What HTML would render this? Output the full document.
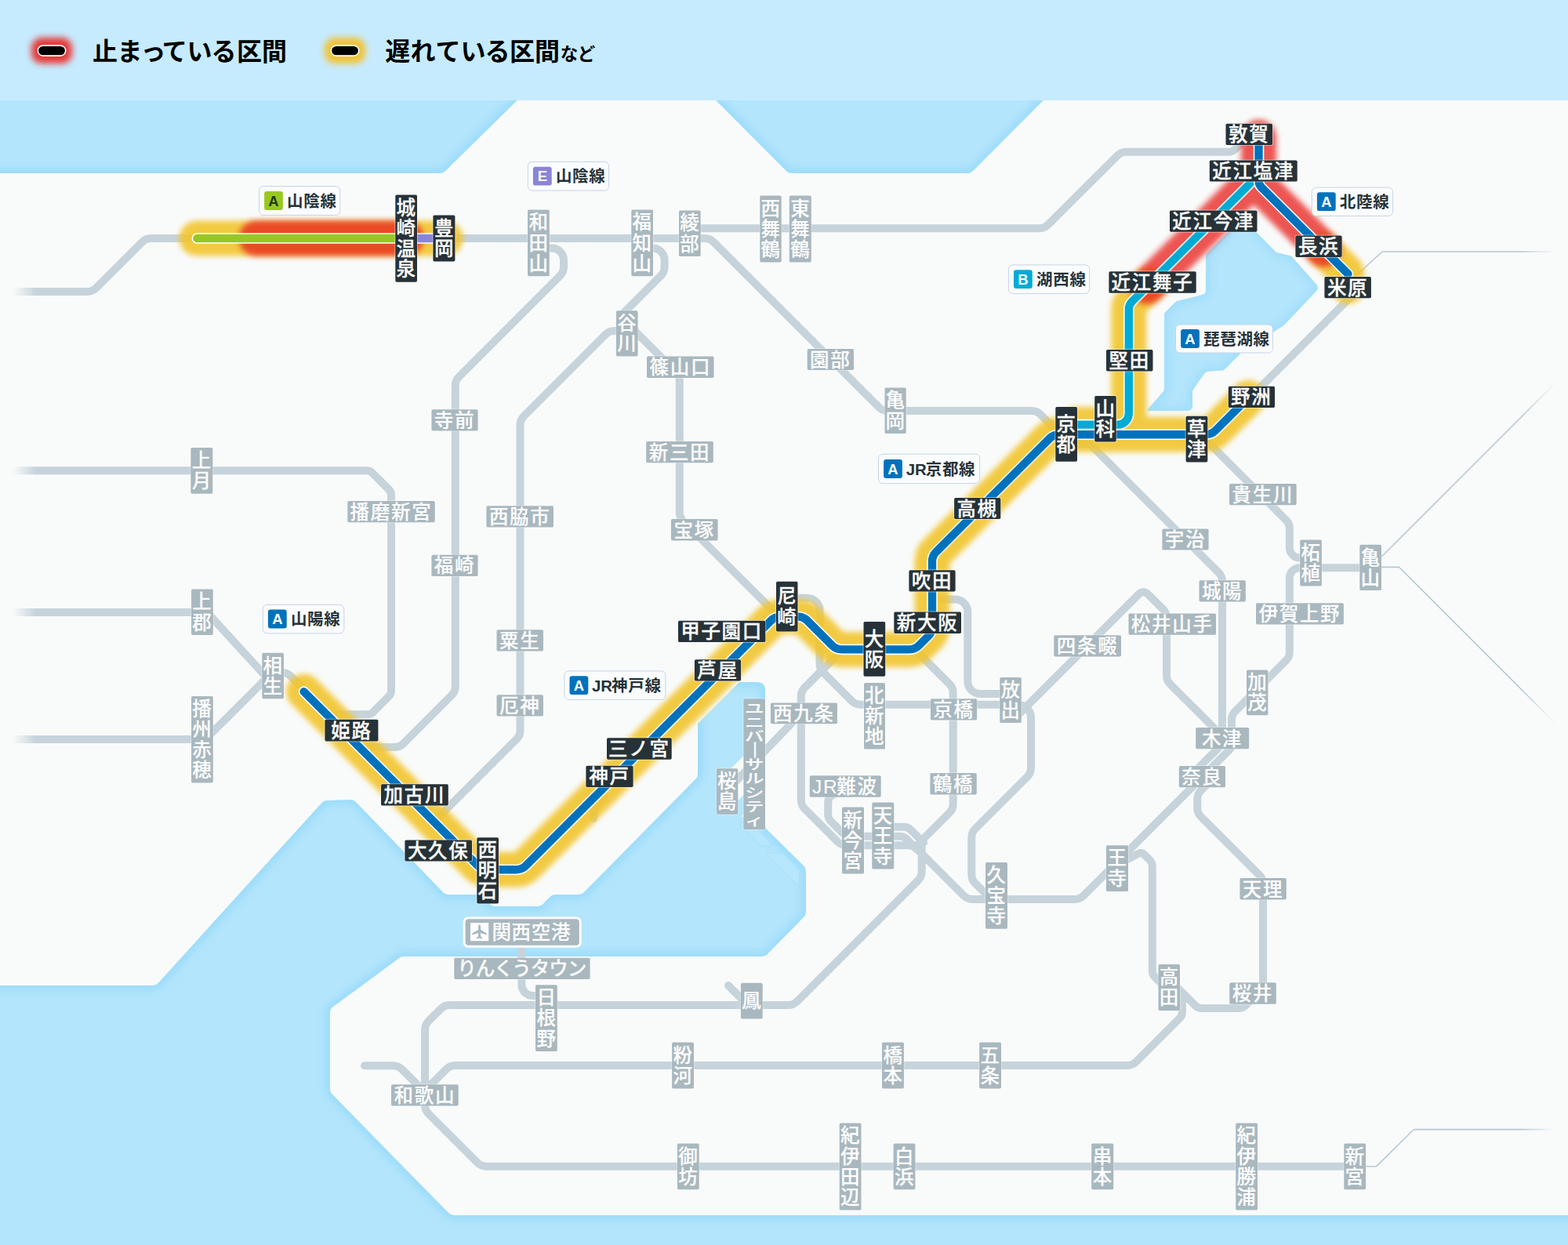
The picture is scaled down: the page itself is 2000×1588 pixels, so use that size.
<!DOCTYPE html>
<html lang="ja"><head><meta charset="utf-8"><title>JR West train status map</title>
<style>html,body{margin:0;padding:0;background:#B3E5FC;font-family:"Liberation Sans",sans-serif}svg{display:block}</style></head>
<body>
<svg width="2000" height="1588" viewBox="0 0 2000 1588" role="img" aria-label="JR西日本 近畿エリア 運行情報マップ">
<title>JR西日本 近畿エリア 運行情報マップ</title>
<defs><filter id="bl5" filterUnits="userSpaceOnUse" x="-40" y="-40" width="2080" height="1668"><feGaussianBlur stdDeviation="5"/></filter><filter id="bl4" filterUnits="userSpaceOnUse" x="-40" y="-40" width="2080" height="1668"><feGaussianBlur stdDeviation="3.7"/></filter><filter id="bl3" x="-50%" y="-50%" width="200%" height="200%"><feGaussianBlur stdDeviation="4"/></filter><clipPath id="lakeclip"><path d="M1580.1 281.9A6 6 0 0 1 1588.6 281.9L1627.4 321.4A3 3 0 0 0 1628.8 322.2L1646.1 326.3A3 3 0 0 1 1647.6 327.2L1679.3 362.9A6 6 0 0 1 1679.2 371L1638.5 414A6 6 0 0 1 1637.4 414.9L1583.5 449.7A6 6 0 0 0 1582.5 450.5L1562.1 470.9A6 6 0 0 1 1558.3 472.6L1540.8 473.8A6 6 0 0 0 1536.4 476.3L1522.1 496.4A6 6 0 0 0 1521 499.9L1521 518A6 6 0 0 1 1515 524L1464.8 524A1.2 1.2 0 0 1 1464 522L1465.8 520.2A6 6 0 0 0 1466.1 519.8L1483.5 499.7A6 6 0 0 0 1485 495.8L1485 402A6 6 0 0 1 1486.8 397.7L1498.8 385.7A6 6 0 0 1 1501.6 384.1L1533.5 376.1A6 6 0 0 0 1538 370.3L1538 326.5A6 6 0 0 1 1539.8 322.2Z"/></clipPath><linearGradient id="fl" x1="0" x2="1" y1="0" y2="0"><stop offset=".35" stop-color="#F9FBFB"/><stop offset="1" stop-color="#F9FBFB" stop-opacity="0"/></linearGradient><linearGradient id="fr" x1="0" x2="1" y1="0" y2="0"><stop offset="0" stop-color="#F9FBFB" stop-opacity="0"/><stop offset=".75" stop-color="#F9FBFB"/></linearGradient></defs>
<rect width="2000" height="1588" fill="#B3E5FC"/>
<path d="M-20 230A9 9 0 0 1 -11 221L561.3 221A9 9 0 0 0 567.6 218.4L667.4 120.6A9 9 0 0 1 673.7 118L899.3 118A9 9 0 0 1 905.6 120.6L1003.4 218.4A9 9 0 0 0 1009.7 221L1234.3 221A9 9 0 0 0 1240.6 218.4L1338.4 120.6A9 9 0 0 1 1344.7 118L2011 118A9 9 0 0 1 2020 127L2020 1541A9 9 0 0 1 2011 1550L578.8 1550A9 9 0 0 1 572.4 1547.3L423.6 1395.6A9 9 0 0 1 421 1389.3L421 1291.5A9 9 0 0 1 424.7 1284.3L509.6 1221.8A9 9 0 0 1 515 1220L972.2 1220A9 9 0 0 0 978.6 1217.3L1025.4 1169.6A9 9 0 0 0 1028 1163.3L1028 1110.8A9 9 0 0 0 1025.3 1104.4L978.7 1058.6A9 9 0 0 1 976 1052.2L976 879A9 9 0 0 0 967 870L899 870A9 9 0 0 0 890 879L890 987.3A9 9 0 0 1 887.4 993.6L744.6 1138.3A9 9 0 0 1 738.2 1141L707.9 1141A9 9 0 0 0 701.3 1143.9L692.7 1153.1A9 9 0 0 1 686.1 1156L631.7 1156A9 9 0 0 1 625.4 1153.4L615.6 1143.6A9 9 0 0 0 609.3 1141L571.8 1141A9 9 0 0 1 565.3 1138.3L453.8 1022.8A9 9 0 0 0 447 1020.1L416.8 1020.9A9 9 0 0 0 410.4 1023.9L201.7 1254A9 9 0 0 1 195 1257L-11 1257A9 9 0 0 1 -20 1248Z" fill="none" stroke="#9CDCFA" stroke-width="13" filter="url(#bl5)"/>
<path d="M-20 230A9 9 0 0 1 -11 221L561.3 221A9 9 0 0 0 567.6 218.4L667.4 120.6A9 9 0 0 1 673.7 118L899.3 118A9 9 0 0 1 905.6 120.6L1003.4 218.4A9 9 0 0 0 1009.7 221L1234.3 221A9 9 0 0 0 1240.6 218.4L1338.4 120.6A9 9 0 0 1 1344.7 118L2011 118A9 9 0 0 1 2020 127L2020 1541A9 9 0 0 1 2011 1550L578.8 1550A9 9 0 0 1 572.4 1547.3L423.6 1395.6A9 9 0 0 1 421 1389.3L421 1291.5A9 9 0 0 1 424.7 1284.3L509.6 1221.8A9 9 0 0 1 515 1220L972.2 1220A9 9 0 0 0 978.6 1217.3L1025.4 1169.6A9 9 0 0 0 1028 1163.3L1028 1110.8A9 9 0 0 0 1025.3 1104.4L978.7 1058.6A9 9 0 0 1 976 1052.2L976 879A9 9 0 0 0 967 870L899 870A9 9 0 0 0 890 879L890 987.3A9 9 0 0 1 887.4 993.6L744.6 1138.3A9 9 0 0 1 738.2 1141L707.9 1141A9 9 0 0 0 701.3 1143.9L692.7 1153.1A9 9 0 0 1 686.1 1156L631.7 1156A9 9 0 0 1 625.4 1153.4L615.6 1143.6A9 9 0 0 0 609.3 1141L571.8 1141A9 9 0 0 1 565.3 1138.3L453.8 1022.8A9 9 0 0 0 447 1020.1L416.8 1020.9A9 9 0 0 0 410.4 1023.9L201.7 1254A9 9 0 0 1 195 1257L-11 1257A9 9 0 0 1 -20 1248Z" fill="#F9FBFB"/>
<path d="M949.5 963L931 981.5V1010H941.5V1021L949.5 1013ZM949.5 1036.5L945.2 1041.8H949.5Z" fill="#F9FBFB"/>
<path d="M846 929L972 803" stroke="#F9FBFB" stroke-width="54" fill="none"/>
<g fill="#B7E7FC" stroke="#A6DFFB" stroke-width="1" stroke-linejoin="round"><path d="M946.9 1049A2.5 2.5 0 0 0 945.1 1053.2L969.3 1078.2A2.5 2.5 0 0 0 971.1 1079L980.5 1079A2.5 2.5 0 0 0 982.3 1074.7L957.7 1049.7A2.5 2.5 0 0 0 956 1049Z"/><path d="M978.5 1089.2A1.2 1.2 0 0 1 979.8 1088L996.7 1088A3 3 0 0 1 998.9 1088.9L1018.6 1109.1A3 3 0 0 1 1019.5 1111.2L1019.5 1126.2A1.7 1.7 0 0 1 1017.8 1128L1017.2 1128A3 3 0 0 1 1015.1 1127.1L979.4 1091.4A3 3 0 0 1 978.5 1089.3Z"/></g>
<path d="M1580.1 281.9A6 6 0 0 1 1588.6 281.9L1627.4 321.4A3 3 0 0 0 1628.8 322.2L1646.1 326.3A3 3 0 0 1 1647.6 327.2L1679.3 362.9A6 6 0 0 1 1679.2 371L1638.5 414A6 6 0 0 1 1637.4 414.9L1583.5 449.7A6 6 0 0 0 1582.5 450.5L1562.1 470.9A6 6 0 0 1 1558.3 472.6L1540.8 473.8A6 6 0 0 0 1536.4 476.3L1522.1 496.4A6 6 0 0 0 1521 499.9L1521 518A6 6 0 0 1 1515 524L1464.8 524A1.2 1.2 0 0 1 1464 522L1465.8 520.2A6 6 0 0 0 1466.1 519.8L1483.5 499.7A6 6 0 0 0 1485 495.8L1485 402A6 6 0 0 1 1486.8 397.7L1498.8 385.7A6 6 0 0 1 1501.6 384.1L1533.5 376.1A6 6 0 0 0 1538 370.3L1538 326.5A6 6 0 0 1 1539.8 322.2Z" fill="#B3E5FC"/>
<g clip-path="url(#lakeclip)" opacity=".8"><path d="M1580.1 281.9A6 6 0 0 1 1588.6 281.9L1627.4 321.4A3 3 0 0 0 1628.8 322.2L1646.1 326.3A3 3 0 0 1 1647.6 327.2L1679.3 362.9A6 6 0 0 1 1679.2 371L1638.5 414A6 6 0 0 1 1637.4 414.9L1583.5 449.7A6 6 0 0 0 1582.5 450.5L1562.1 470.9A6 6 0 0 1 1558.3 472.6L1540.8 473.8A6 6 0 0 0 1536.4 476.3L1522.1 496.4A6 6 0 0 0 1521 499.9L1521 518A6 6 0 0 1 1515 524L1464.8 524A1.2 1.2 0 0 1 1464 522L1465.8 520.2A6 6 0 0 0 1466.1 519.8L1483.5 499.7A6 6 0 0 0 1485 495.8L1485 402A6 6 0 0 1 1486.8 397.7L1498.8 385.7A6 6 0 0 1 1501.6 384.1L1533.5 376.1A6 6 0 0 0 1538 370.3L1538 326.5A6 6 0 0 1 1539.8 322.2Z" fill="none" stroke="#9CDCFA" stroke-width="11" filter="url(#bl5)"/></g>
<g fill="none" stroke="#C6D3DA" stroke-width="10" stroke-linecap="round" stroke-linejoin="round"><path d="M10 372L111.4 372A16 16 0 0 0 122.7 367.3L181.3 308.7A16 16 0 0 1 192.6 304L255 304"/><path d="M560 304L898.9 304A16 16 0 0 1 910.2 308.7L1120.8 519.3A16 16 0 0 0 1132.1 524L1315.9 524A16 16 0 0 1 1327.2 528.7L1350 551.5"/><path d="M880 291.3L1325.4 291.3A16 16 0 0 0 1336.7 286.6L1425.3 198.5A16 16 0 0 1 1436.6 193.8L1567 193.8A12 12 0 0 0 1575.5 190.3L1588 177.8"/><path d="M686 316.5L703.8 316.5A15.2 15.2 0 0 1 719 331.8L719 340.4A16 16 0 0 1 714.3 351.7L585.5 480.5A16 16 0 0 0 580.8 491.8L580.8 875.4A16 16 0 0 1 576.1 886.7L514.7 948.3A16 16 0 0 1 503.4 953L455 953"/><path d="M10 600.3L467.9 600.3A10 10 0 0 1 474.9 603.2L496.1 624.4A10 10 0 0 1 499 631.4L499 880.9A10 10 0 0 1 496.1 887.9L475.9 908.3A10 10 0 0 1 468.8 911.3L412 911.3"/><path d="M800 422L783.6 422A16 16 0 0 0 772.3 426.7L668.2 530.8A16 16 0 0 0 663.5 542.1L663.5 931.4A16 16 0 0 1 658.8 942.7L553.4 1048"/><path d="M820 316.5L832.4 316.5A15.2 15.2 0 0 1 847.6 331.8L847.6 340.4A16 16 0 0 1 842.9 351.7L795 399.6"/><path d="M800 412.4L862.1 474.5A16 16 0 0 1 866.8 485.8L866.8 653.4A16 16 0 0 0 871.5 664.7L995 788"/><path d="M1360 566L1383.4 566A16 16 0 0 1 1394.7 570.7L1554.3 730.3A16 16 0 0 1 1559 741.6L1559 944.9A10 10 0 0 1 1556.1 951.9L1522 986"/><path d="M1528 551L1641 664A13 13 0 0 1 1644.8 673.2L1644.8 698.6A13 13 0 0 0 1657.8 711.6L1672 711.6"/><path d="M1297 913.4L1452.7 757.7A8 8 0 0 1 1464.1 757.7L1483.3 776.9A16 16 0 0 1 1488 788.2L1488 861.4A16 16 0 0 0 1492.7 872.7L1551 931"/><path d="M1003 762.8L1029.5 762.8A16 16 0 0 1 1045.5 778.8L1045.5 846.6A16 16 0 0 0 1050.2 857.9L1086.3 894A16 16 0 0 0 1097.6 898.7L1290 898.7"/><path d="M1200 764.5L1218.3 764.5A16 16 0 0 1 1234.3 780.5L1234.3 869A16 16 0 0 0 1250.3 885L1290 885"/><path d="M1289 899L1299 899A16 16 0 0 1 1315 915L1315 979.4A16 16 0 0 1 1310.3 990.7L1244 1057A16 16 0 0 0 1239.3 1068.3L1239.3 1115.4A16 16 0 0 0 1244 1126.7L1264 1146.7"/><path d="M1075 828.4L1026.5 876.9A16 16 0 0 0 1021.8 888.2L1021.8 1020.4A16 16 0 0 0 1026.5 1031.7L1068.3 1073.5A16 16 0 0 0 1079.6 1078.2L1158.4 1078.2A16 16 0 0 1 1169.7 1082.9L1229.1 1142.3A16 16 0 0 0 1240.4 1147L1370.9 1147A16 16 0 0 0 1382.2 1142.3L1568.1 956.4A10 10 0 0 0 1571 949.4L1571 917.2A13 13 0 0 1 1574.8 908L1641 841.8A13 13 0 0 0 1644.8 832.6L1644.8 737.2A13 13 0 0 1 1657.8 724.2L1748 724.2"/><path d="M1080 1005L1061.7 1014.2A10 10 0 0 0 1056.2 1023.2L1056.2 1039A12 12 0 0 0 1059.7 1047.5L1075.5 1063.3A12 12 0 0 0 1084 1066.8L1148 1066.8A12 12 0 0 1 1156.5 1070.3L1170 1083.8"/><path d="M1126 1054.8L1153 1054.8A12 12 0 0 1 1161.5 1058.3L1178 1074.8"/><path d="M1167 828.4L1211 872.4A16 16 0 0 1 1215.7 883.7L1215.7 1025.4A16 16 0 0 1 1211 1036.7L1172 1075.7"/><path d="M1175.7 1072L1175.7 1111.7A16 16 0 0 1 1171 1123L1016.7 1277.3A16 16 0 0 1 1005.4 1282L573.6 1282A16 16 0 0 0 562.3 1286.7L546.7 1302.3A16 16 0 0 0 542 1313.6L542 1395"/><path d="M929 1257L955 1283"/><path d="M695 1270L679.4 1270A14 14 0 0 1 665.4 1256L665.4 1195"/><path d="M545 1388L569.3 1363.7A16 16 0 0 1 580.6 1359L1437.9 1359A16 16 0 0 0 1449.2 1354.3L1504.5 1299A12 12 0 0 0 1508 1290.5L1508 1275"/><path d="M1544 996L1531.9 1008.1A16 16 0 0 0 1527.2 1019.4L1527.2 1030.4A16 16 0 0 0 1531.9 1041.7L1606.3 1116.1A16 16 0 0 1 1611 1127.4L1611 1266"/><path d="M1595 1276L1588.5 1282.5A12 12 0 0 1 1580 1286L1533 1286A12 12 0 0 1 1524.5 1282.5L1498 1256"/><path d="M1425 1103L1452.1 1088.6A6 6 0 0 1 1459.1 1089.6L1466.3 1096.8A12 12 0 0 1 1469.8 1105.3L1469.8 1238A12 12 0 0 0 1473.3 1246.5L1490 1263.2"/><path d="M542 1395L542 1409.4A16 16 0 0 0 546.7 1420.7L609 1483A16 16 0 0 0 620.3 1487.7L1728 1487.7"/><path d="M465 1359.2L501.4 1359.2A16 16 0 0 1 512.7 1363.9L537 1388.2"/><path d="M10 780.9L257 780.9A16 16 0 0 1 268.8 786.1L340 864"/><path d="M10 943L255.4 943A16 16 0 0 0 266.7 938.3L345 860"/><path d="M350 857.7L359.4 857.7A16 16 0 0 1 370.7 862.4L390 881.7"/><path d="M1585 516.5L1728 373.5"/><path d="M771 1017L758.8 1029.2A6 6 0 0 0 757 1033.5L757 1044"/><path d="M1010 922L930 1005.5"/></g>
<g fill="none" stroke="#B7C8D1" stroke-width="1.6" stroke-linejoin="round"><path d="M1728 353L1762.6 321.5A2 2 0 0 1 1764 321L2005 321"/><path d="M1762 710.3L2005 467.3"/><path d="M1762 723.4L1783.8 723.4A2 2 0 0 1 1785.2 724L2005 943.8"/><path d="M1742 1487.7L1754.8 1487.7A2 2 0 0 0 1756.2 1487.1L1802.7 1441.2A2 2 0 0 1 1804.1 1440.6L2005 1440.6"/></g>
<rect x="0" y="228" width="46" height="1020" fill="url(#fl)"/>
<rect x="1940" y="135" width="60" height="1405" fill="url(#fr)"/>
<g fill="none" stroke-width="45" stroke-linecap="round" stroke-linejoin="round"><g opacity=".9" filter="url(#bl4)" stroke="#F2C52F"><path d="M251 304H568"/><path d="M387.5 882.1L609.6 1104.2A17 17 0 0 0 621.6 1109.2L658.8 1109.2A17 17 0 0 0 670.8 1104.2L983.5 791.5A17 17 0 0 1 995.5 786.5L1017.6 786.5A17 17 0 0 1 1029.6 791.5L1061.5 823.4A17 17 0 0 0 1073.5 828.4L1160 828.4A17 17 0 0 0 1172 823.4L1184 811.4A17 17 0 0 0 1189 799.4L1189 716A17 17 0 0 1 1194 704L1338.8 559.2A17 17 0 0 1 1350.8 554.2L1538.3 554.2A17 17 0 0 0 1550.3 549.2L1592 507.5"/><path d="M1372 541.6L1425.8 541.6A14 14 0 0 0 1439.8 527.6L1439.8 394.5A14 14 0 0 1 1443.9 384.6L1466 362.5"/><path d="M1688 318L1717 347L1719 365"/></g><g opacity=".76" filter="url(#bl4)" stroke="#E8241F"><path d="M327 304H518"/><path d="M1463 365.5L1595 233.5"/><path d="M1605.5 175L1605.5 230.5A12 12 0 0 0 1609 239L1688 318"/></g></g>
<g fill="none" stroke-linecap="round" stroke-linejoin="round"><path d="M251.3 304H520" stroke="#fff" stroke-width="13.6"/><path d="M251.3 304H520" stroke="#97C81F" stroke-width="10.4"/><path d="M530 304H566" stroke="#fff" stroke-width="13.6"/><path d="M530 304H566" stroke="#8A84D8" stroke-width="10.4"/><path d="M1372 541.6L1425.8 541.6A14 14 0 0 0 1439.8 527.6L1439.8 394.5A14 14 0 0 1 1443.9 384.6L1595 233.5" stroke="#fff" stroke-width="13.6"/><path d="M1372 541.6L1425.8 541.6A14 14 0 0 0 1439.8 527.6L1439.8 394.5A14 14 0 0 1 1443.9 384.6L1595 233.5" stroke="#00ABD3" stroke-width="10.4"/><path d="M387.5 882.1L609.6 1104.2A17 17 0 0 0 621.6 1109.2L658.8 1109.2A17 17 0 0 0 670.8 1104.2L983.5 791.5A17 17 0 0 1 995.5 786.5L1017.6 786.5A17 17 0 0 1 1029.6 791.5L1061.5 823.4A17 17 0 0 0 1073.5 828.4L1160 828.4A17 17 0 0 0 1172 823.4L1184 811.4A17 17 0 0 0 1189 799.4L1189 716A17 17 0 0 1 1194 704L1338.8 559.2A17 17 0 0 1 1350.8 554.2L1538.3 554.2A17 17 0 0 0 1550.3 549.2L1592 507.5" stroke="#fff" stroke-width="13.6"/><path d="M387.5 882.1L609.6 1104.2A17 17 0 0 0 621.6 1109.2L658.8 1109.2A17 17 0 0 0 670.8 1104.2L983.5 791.5A17 17 0 0 1 995.5 786.5L1017.6 786.5A17 17 0 0 1 1029.6 791.5L1061.5 823.4A17 17 0 0 0 1073.5 828.4L1160 828.4A17 17 0 0 0 1172 823.4L1184 811.4A17 17 0 0 0 1189 799.4L1189 716A17 17 0 0 1 1194 704L1338.8 559.2A17 17 0 0 1 1350.8 554.2L1538.3 554.2A17 17 0 0 0 1550.3 549.2L1592 507.5" stroke="#0072BC" stroke-width="10.4"/><path d="M1605.5 170L1605.5 230.5A12 12 0 0 0 1609 239L1719.5 349.5" stroke="#fff" stroke-width="13.6"/><path d="M1605.5 170L1605.5 230.5A12 12 0 0 0 1609 239L1719.5 349.5" stroke="#0072BC" stroke-width="10.4"/></g>
<g fill="#A9B8BF" stroke="#fff" stroke-opacity=".32" stroke-width="2" paint-order="stroke"><rect x="673" y="267.6" width="27.8" height="84.6" rx="1.7"/><rect x="805.3" y="267.6" width="27.7" height="84.6" rx="1.7"/><rect x="866" y="268.6" width="27.7" height="58.4" rx="1.7"/><rect x="969.3" y="249.5" width="27.4" height="84.9" rx="1.7"/><rect x="1006.8" y="249.5" width="28" height="84.9" rx="1.7"/><rect x="785.9" y="396.3" width="27.7" height="58.2" rx="1.7"/><rect x="825" y="454.5" width="85.6" height="27.5" rx="1.7"/><rect x="1029.7" y="445" width="59.3" height="27" rx="1.7"/><rect x="1128.5" y="494.6" width="27.2" height="58.4" rx="1.7"/><rect x="243.3" y="571" width="28" height="58.7" rx="1.7"/><rect x="244" y="751.4" width="27.8" height="58.6" rx="1.7"/><rect x="334.3" y="832.7" width="27.7" height="58.5" rx="1.7"/><rect x="443.3" y="639" width="111.4" height="27.2" rx="1.7"/><rect x="244" y="888" width="27.8" height="110.4" rx="1.7"/><rect x="550.4" y="522.2" width="59.2" height="27.2" rx="1.7"/><rect x="550.4" y="707.8" width="59.2" height="27.2" rx="1.7"/><rect x="620.4" y="645.3" width="85.6" height="27.2" rx="1.7"/><rect x="633.5" y="803.3" width="59.5" height="27.2" rx="1.7"/><rect x="633.5" y="886.3" width="59.5" height="27.2" rx="1.7"/><rect x="824.2" y="563" width="85.6" height="27.2" rx="1.7"/><rect x="855.9" y="662" width="59.7" height="27.4" rx="1.7"/><rect x="1344.3" y="810.3" width="85.7" height="27.2" rx="1.7"/><rect x="1439.5" y="782.6" width="111.5" height="27.2" rx="1.7"/><rect x="1482.4" y="674.6" width="59.2" height="26.9" rx="1.7"/><rect x="1102" y="871" width="27" height="84.6" rx="1.7"/><rect x="1275.3" y="864" width="27.5" height="58" rx="1.7"/><rect x="1186.9" y="891.3" width="59.2" height="27.2" rx="1.7"/><rect x="1568" y="617.1" width="85.7" height="27.2" rx="1.7"/><rect x="1658.2" y="688.4" width="27.7" height="59" rx="1.7"/><rect x="1734.3" y="694.7" width="27.7" height="58.4" rx="1.7"/><rect x="1529.5" y="740.3" width="59.4" height="27.2" rx="1.7"/><rect x="1602" y="769.3" width="111.9" height="27.2" rx="1.7"/><rect x="1590" y="854.4" width="27.4" height="57.8" rx="1.7"/><rect x="913.9" y="980.3" width="27.4" height="58.4" rx="1.7"/><rect x="982.9" y="896.4" width="85.1" height="26.9" rx="1.7"/><rect x="683" y="1256.2" width="27.8" height="84.7" rx="1.7"/><rect x="944.9" y="1253.7" width="27.8" height="45.8" rx="1.7"/><rect x="1032.7" y="989.3" width="91" height="27.5" rx="1.7"/><rect x="1074" y="1029.4" width="28" height="85.1" rx="1.7"/><rect x="1112.3" y="1023.6" width="28" height="84.9" rx="1.7"/><rect x="1186.4" y="986" width="59.4" height="27.5" rx="1.7"/><rect x="1257" y="1100" width="28" height="84.8" rx="1.7"/><rect x="1411" y="1078.2" width="28" height="58.8" rx="1.7"/><rect x="1477.5" y="1230" width="27.5" height="59" rx="1.7"/><rect x="1525.2" y="927.9" width="68" height="27.4" rx="1.7"/><rect x="1503.8" y="977" width="59.2" height="27.2" rx="1.7"/><rect x="1581.4" y="1120" width="59.4" height="27.5" rx="1.7"/><rect x="1568.2" y="1253.2" width="59.6" height="27.5" rx="1.7"/><rect x="499" y="1383.2" width="85.7" height="27.4" rx="1.7"/><rect x="857.1" y="1329.6" width="27.9" height="58.9" rx="1.7"/><rect x="863.9" y="1458.4" width="27.8" height="58.9" rx="1.7"/><rect x="1125" y="1329.6" width="27.9" height="58.9" rx="1.7"/><rect x="1249.1" y="1329.6" width="27.9" height="58.9" rx="1.7"/><rect x="1070.7" y="1432.4" width="27.8" height="111.2" rx="1.7"/><rect x="1139.6" y="1458.4" width="27.8" height="58.9" rx="1.7"/><rect x="1392.2" y="1458.4" width="28.1" height="58.9" rx="1.7"/><rect x="1576.2" y="1432.4" width="27.8" height="111.2" rx="1.7"/><rect x="1714.3" y="1458.4" width="27.8" height="58.9" rx="1.7"/><rect x="948.4" y="891.3" width="27.6" height="166.7" rx="1.7"/><rect x="579.3" y="1221.8" width="173.3" height="27.2" rx="1.7"/></g>
<rect x="590.7" y="1169.3" width="151" height="39.4" rx="6.5" fill="#fff"/><rect x="593.6" y="1172.2" width="145.2" height="33.6" rx="4" fill="#A9B8BF"/><rect x="600" y="1177" width="23.2" height="23.2" fill="#fff"/><path fill="#A9B8BF" transform="translate(611.6 1188.8) scale(0.92)" d="M0-10c1 0 1.6 1 1.6 2.4v4.2l8.4 5.2v2.2l-8.4-2.6v4.6l2.4 1.8v1.7l-4-1.1-4 1.1v-1.7l2.4-1.8v-4.6l-8.4 2.6v-2.2l8.4-5.2v-4.2c0-1.4.6-2.4 1.6-2.4z"/>
<g fill="#fff" stroke="#fff" stroke-width="0.12" font-family="&quot;Liberation Sans&quot;, &quot;Noto Sans CJK JP&quot;, sans-serif" font-size="24.5" font-weight="500">
<text x="674.4 674.4 674.4" y="292.4 318.6 344.8">和田山</text>
<text x="806.6 806.6 806.6" y="292.4 318.6 344.8">福知山</text>
<text x="867.3 867.3" y="293.4 319.6">綾部</text>
<text x="970.5 970.5 970.5" y="274.5 300.7 326.9">西舞鶴</text>
<text x="1008.2 1008.2 1008.2" y="274.5 300.7 326.9">東舞鶴</text>
<text x="787.2 787.2" y="421 447.2">谷川</text>
<text x="828.5" y="477.3" letter-spacing="1.7">篠山口</text>
<text x="1033.1" y="467.5" letter-spacing="1.7">園部</text>
<text x="1129.5 1129.5" y="519.4 545.6">亀岡</text>
<text x="244.8 244.8" y="596 622.2">上月</text>
<text x="245.3 245.3" y="776.3 802.5">上郡</text>
<text x="335.6 335.6" y="857.6 883.8">相生</text>
<text x="446.6" y="661.6" letter-spacing="1.7">播磨新宮</text>
<text x="245.3 245.3 245.3 245.3" y="912.6 938.8 965 991.2">播州赤穂</text>
<text x="553.8" y="544.8" letter-spacing="1.7">寺前</text>
<text x="553.8" y="730.4" letter-spacing="1.7">福崎</text>
<text x="623.9" y="667.9" letter-spacing="1.7">西脇市</text>
<text x="637" y="825.9" letter-spacing="1.7">粟生</text>
<text x="637" y="908.9" letter-spacing="1.7">厄神</text>
<text x="827.7" y="585.6" letter-spacing="1.7">新三田</text>
<text x="859.5" y="684.7" letter-spacing="1.7">宝塚</text>
<text x="1347.8" y="832.9" letter-spacing="1.7">四条畷</text>
<text x="1442.8" y="805.2" letter-spacing="1.7">松井山手</text>
<text x="1485.7" y="697.1" letter-spacing="1.7">宇治</text>
<text x="1103 1103 1103" y="895.8 922 948.2">北新地</text>
<text x="1276.5 1276.5" y="888.6 914.8">放出</text>
<text x="1190.2" y="913.9" letter-spacing="1.7">京橋</text>
<text x="1571.5" y="639.7" letter-spacing="1.7">貴生川</text>
<text x="1659.5 1659.5" y="713.5 739.7">柘植</text>
<text x="1735.6 1735.6" y="719.5 745.7">亀山</text>
<text x="1532.9" y="762.9" letter-spacing="1.7">城陽</text>
<text x="1605.5" y="791.9" letter-spacing="1.7">伊賀上野</text>
<text x="1591.2 1591.2" y="878.9 905.1">加茂</text>
<text x="915 915" y="1005.1 1031.3">桜島</text>
<text x="986.1" y="918.9" letter-spacing="1.7">西九条</text>
<text x="684.4 684.4 684.4" y="1281.1 1307.3 1333.5">日根野</text>
<text x="946.2" y="1285.3">鳳</text>
<text x="1036.1 1050 1067.2 1093.4" y="1012.1">JR難波</text>
<text x="1075.5 1075.5 1075.5" y="1054.5 1080.7 1106.9">新今宮</text>
<text x="1113.8 1113.8 1113.8" y="1048.6 1074.8 1101">天王寺</text>
<text x="1189.8" y="1008.8" letter-spacing="1.7">鶴橋</text>
<text x="1258.5 1258.5 1258.5" y="1124.9 1151.1 1177.3">久宝寺</text>
<text x="1412.5 1412.5" y="1103.2 1129.4">王寺</text>
<text x="1478.7 1478.7" y="1255.1 1281.3">高田</text>
<text x="1532.9" y="950.6" letter-spacing="1.7">木津</text>
<text x="1507.1" y="999.6" letter-spacing="1.7">奈良</text>
<text x="1584.8" y="1142.8" letter-spacing="1.7">天理</text>
<text x="1571.7" y="1276" letter-spacing="1.7">桜井</text>
<text x="502.5" y="1405.9" letter-spacing="1.7">和歌山</text>
<text x="858.5 858.5" y="1354.7 1380.9">粉河</text>
<text x="865.2 865.2" y="1483.5 1509.7">御坊</text>
<text x="1126.4 1126.4" y="1354.7 1380.9">橋本</text>
<text x="1250.5 1250.5" y="1354.7 1380.9">五条</text>
<text x="1072 1072 1072 1072" y="1457.4 1483.6 1509.8 1536">紀伊田辺</text>
<text x="1141 1141" y="1483.5 1509.7">白浜</text>
<text x="1393.7 1393.7" y="1483.5 1509.7">串本</text>
<text x="1577.5 1577.5 1577.5 1577.5" y="1457.4 1483.6 1509.8 1536">紀伊勝浦</text>
<text x="1715.6 1715.6" y="1483.5 1509.7">新宮</text>
<text transform="translate(950 909.6) scale(1 0.698)">ユ</text>
<text transform="translate(950 927.5) scale(1 0.698)">ニ</text>
<text transform="translate(950 945.4) scale(1 0.698)">バ</text>
<text transform="translate(955.7 944.5) rotate(90) scale(1 0.698)">ー</text>
<text transform="translate(950 981.2) scale(1 0.698)">サ</text>
<text transform="translate(950 999.1) scale(1 0.698)">ル</text>
<text transform="translate(950 1017) scale(1 0.698)">シ</text>
<text transform="translate(950 1034.9) scale(1 0.698)">テ</text>
<text transform="translate(950 1052.8) scale(1 0.698)">ィ</text>
<text x="583.2" y="1244.4" letter-spacing="-1">りんくうタウン</text>
<text x="627.4" y="1198" letter-spacing="0.7">関西空港</text>
</g>
<g fill="#263238" stroke="#fff" stroke-opacity=".45" stroke-width="2" paint-order="stroke"><rect x="504.3" y="248.5" width="27.7" height="111.3" rx="1.7"/><rect x="552.4" y="274.4" width="28" height="59" rx="1.7"/><rect x="1563.5" y="157.8" width="59.5" height="27.2" rx="1.7"/><rect x="1542.8" y="204.6" width="111.9" height="27" rx="1.7"/><rect x="1492" y="268.6" width="111.5" height="27.2" rx="1.7"/><rect x="1652.4" y="300.6" width="59.2" height="27.4" rx="1.7"/><rect x="1689.4" y="353" width="59.5" height="27.2" rx="1.7"/><rect x="1414.4" y="346.2" width="111.3" height="27.5" rx="1.7"/><rect x="1411" y="446" width="59.5" height="27.4" rx="1.7"/><rect x="1396.2" y="505" width="27.5" height="58.5" rx="1.7"/><rect x="1346.3" y="519" width="27.7" height="69.7" rx="1.7"/><rect x="1512.6" y="530.7" width="27.7" height="58.7" rx="1.7"/><rect x="1566.8" y="492.8" width="59.2" height="27.2" rx="1.7"/><rect x="1217.1" y="635" width="59.2" height="27" rx="1.7"/><rect x="1159.4" y="727.2" width="59.2" height="27.2" rx="1.7"/><rect x="1140.3" y="780.6" width="85.7" height="27.4" rx="1.7"/><rect x="1101.5" y="793" width="27.7" height="69.7" rx="1.7"/><rect x="990" y="741.8" width="27.5" height="63.7" rx="1.7"/><rect x="865" y="791.7" width="111.3" height="27.4" rx="1.7"/><rect x="885.9" y="841.3" width="59.2" height="27.2" rx="1.7"/><rect x="774" y="941.2" width="82.7" height="27.5" rx="1.7"/><rect x="747.4" y="976.7" width="60.2" height="27.3" rx="1.7"/><rect x="608.3" y="1068.2" width="27.7" height="84.3" rx="1.7"/><rect x="516.4" y="1071.4" width="85.6" height="27" rx="1.7"/><rect x="486" y="1000.2" width="85.8" height="27.2" rx="1.7"/><rect x="414.4" y="917.8" width="68" height="27.7" rx="1.7"/></g>
<g fill="#fff" stroke="#fff" stroke-width="0.27" font-family="&quot;Liberation Sans&quot;, &quot;Noto Sans CJK JP&quot;, sans-serif" font-size="24.5" font-weight="500">
<text x="505.6 505.6 505.6 505.6" y="273.6 299.8 326 352.2">城崎温泉</text>
<text x="553.9 553.9" y="299.5 325.7">豊岡</text>
<text x="1567" y="180.4" letter-spacing="1.7">敦賀</text>
<text x="1546.3" y="227.1" letter-spacing="1.7">近江塩津</text>
<text x="1495.3" y="291.2" letter-spacing="1.7">近江今津</text>
<text x="1655.7" y="323.3" letter-spacing="1.7">長浜</text>
<text x="1692.9" y="375.6" letter-spacing="1.7">米原</text>
<text x="1417.6" y="369" letter-spacing="1.7">近江舞子</text>
<text x="1414.5" y="468.7" letter-spacing="1.7">堅田</text>
<text x="1397.4 1397.4" y="529.9 556.1">山科</text>
<text x="1347.6 1347.6" y="549.5 575.7">京都</text>
<text x="1513.9 1513.9" y="555.7 581.9">草津</text>
<text x="1570.1" y="515.4" letter-spacing="1.7">野洲</text>
<text x="1220.4" y="657.5" letter-spacing="1.7">高槻</text>
<text x="1162.7" y="749.8" letter-spacing="1.7">吹田</text>
<text x="1143.8" y="803.3" letter-spacing="1.7">新大阪</text>
<text x="1102.8 1102.8" y="823.5 849.7">大阪</text>
<text x="991.2 991.2" y="769.3 795.5">尼崎</text>
<text x="868.2" y="814.4" letter-spacing="1.7">甲子園口</text>
<text x="889.2" y="863.9" letter-spacing="1.7">芦屋</text>
<text x="776" y="964" letter-spacing="1.7">三ノ宮</text>
<text x="751.2" y="999.4" letter-spacing="1.7">神戸</text>
<text x="609.6 609.6 609.6" y="1092.9 1119.1 1145.3">西明石</text>
<text x="519.9" y="1093.9" letter-spacing="1.7">大久保</text>
<text x="489.6" y="1022.8" letter-spacing="1.7">加古川</text>
<text x="422.2" y="940.7" letter-spacing="1.7">姫路</text>
</g>
<rect x="330.5" y="237.6" width="103.3" height="36.8" rx="5.5" fill="#FBFCFD" stroke="#C3D4E6" stroke-width="1"/><rect x="337.1" y="244.1" width="23.8" height="23.8" rx="3.2" fill="#97C81F"/><text x="349" y="262.6" font-size="18.4" font-weight="700" text-anchor="middle" fill="#1d3a12">A</text><text x="366.1" y="263.6" font-family="&quot;Liberation Sans&quot;, &quot;Noto Sans CJK JP&quot;, sans-serif" font-size="20.5" font-weight="700" letter-spacing="0.7" fill="#263238">山陰線</text><rect x="673.3" y="206.4" width="103.3" height="36.6" rx="5.5" fill="#FBFCFD" stroke="#C3D4E6" stroke-width="1"/><rect x="679.9" y="212.8" width="23.8" height="23.8" rx="3.2" fill="#8A84D8"/><text x="691.8" y="231.3" font-size="18.4" font-weight="700" text-anchor="middle" fill="#fff">E</text><text x="708.9" y="232.3" font-family="&quot;Liberation Sans&quot;, &quot;Noto Sans CJK JP&quot;, sans-serif" font-size="20.5" font-weight="700" letter-spacing="0.7" fill="#263238">山陰線</text><rect x="1286.4" y="337.9" width="103.3" height="36.5" rx="5.5" fill="#FBFCFD" stroke="#C3D4E6" stroke-width="1"/><rect x="1293" y="344.2" width="23.8" height="23.8" rx="3.2" fill="#00ABD3"/><text x="1304.9" y="362.8" font-size="18.4" font-weight="700" text-anchor="middle" fill="#fff">B</text><text x="1322" y="363.7" font-family="&quot;Liberation Sans&quot;, &quot;Noto Sans CJK JP&quot;, sans-serif" font-size="20.5" font-weight="700" letter-spacing="0.7" fill="#263238">湖西線</text><rect x="1673.3" y="239.1" width="103.3" height="36.3" rx="5.5" fill="#FBFCFD" stroke="#C3D4E6" stroke-width="1"/><rect x="1679.9" y="245.3" width="23.8" height="23.8" rx="3.2" fill="#0072BC"/><text x="1691.8" y="263.9" font-size="18.4" font-weight="700" text-anchor="middle" fill="#fff">A</text><text x="1708.8" y="264.8" font-family="&quot;Liberation Sans&quot;, &quot;Noto Sans CJK JP&quot;, sans-serif" font-size="20.5" font-weight="700" letter-spacing="0.7" fill="#263238">北陸線</text><rect x="1499.5" y="414" width="123.9" height="36" rx="5.5" fill="#FBFCFD" stroke="#C3D4E6" stroke-width="1"/><rect x="1506.1" y="420.1" width="23.8" height="23.8" rx="3.2" fill="#0072BC"/><text x="1518" y="438.6" font-size="18.4" font-weight="700" text-anchor="middle" fill="#fff">A</text><text x="1535" y="439.6" font-family="&quot;Liberation Sans&quot;, &quot;Noto Sans CJK JP&quot;, sans-serif" font-size="20.5" font-weight="700" letter-spacing="0.7" fill="#263238">琵琶湖線</text><rect x="335.3" y="771.3" width="103.5" height="36.5" rx="5.5" fill="#FBFCFD" stroke="#C3D4E6" stroke-width="1"/><rect x="341.9" y="777.6" width="23.8" height="23.8" rx="3.2" fill="#0072BC"/><text x="353.8" y="796.1" font-size="18.4" font-weight="700" text-anchor="middle" fill="#fff">A</text><text x="370.9" y="797.1" font-family="&quot;Liberation Sans&quot;, &quot;Noto Sans CJK JP&quot;, sans-serif" font-size="20.5" font-weight="700" letter-spacing="0.7" fill="#263238">山陽線</text><rect x="719.9" y="855.9" width="129" height="36.5" rx="5.5" fill="#FBFCFD" stroke="#C3D4E6" stroke-width="1"/><rect x="726.5" y="862.2" width="23.8" height="23.8" rx="3.2" fill="#0072BC"/><text x="738.4" y="880.8" font-size="18.4" font-weight="700" text-anchor="middle" fill="#fff">A</text><text x="755.1 766.3 780.1 801.3 822.5" y="881.7" font-family="&quot;Liberation Sans&quot;, &quot;Noto Sans CJK JP&quot;, sans-serif" font-size="20.5" font-weight="700" fill="#263238">JR神戸線</text><rect x="1120.5" y="579.2" width="129.2" height="37.5" rx="5.5" fill="#FBFCFD" stroke="#C3D4E6" stroke-width="1"/><rect x="1127.1" y="586.1" width="23.8" height="23.8" rx="3.2" fill="#0072BC"/><text x="1139" y="604.6" font-size="18.4" font-weight="700" text-anchor="middle" fill="#fff">A</text><text x="1155.7 1166.9 1180.7 1201.9 1223.1" y="605.5" font-family="&quot;Liberation Sans&quot;, &quot;Noto Sans CJK JP&quot;, sans-serif" font-size="20.5" font-weight="700" fill="#263238">JR京都線</text>
<rect width="2000" height="128" fill="#C6EBFF"/>
<rect x="40" y="48.1" width="52" height="33" rx="13" fill="#E53935" filter="url(#bl3)"/><rect x="48.3" y="58.1" width="35.4" height="13" rx="6.5" fill="#000" stroke="#fff" stroke-width="1.6"/>
<rect x="414" y="48.1" width="52" height="33" rx="13" fill="#F2C230" filter="url(#bl3)"/><rect x="422.3" y="58.1" width="35.4" height="13" rx="6.5" fill="#000" stroke="#fff" stroke-width="1.6"/>
<g fill="#000" font-family="&quot;Liberation Sans&quot;, &quot;Noto Sans CJK JP&quot;, sans-serif" font-weight="700">
<text x="118 149.5 179.5 206.7 238.5 269.5 302 334" y="76.8" font-size="32">止まっている区間</text>
<text x="491.2 523.4 555.4 587.4 618.4 650 682" y="76.8" font-size="32">遅れている区間</text>
<text x="714.8 736.8" y="76.8" font-size="22.5">など</text>
</g>
</svg>
</body></html>
